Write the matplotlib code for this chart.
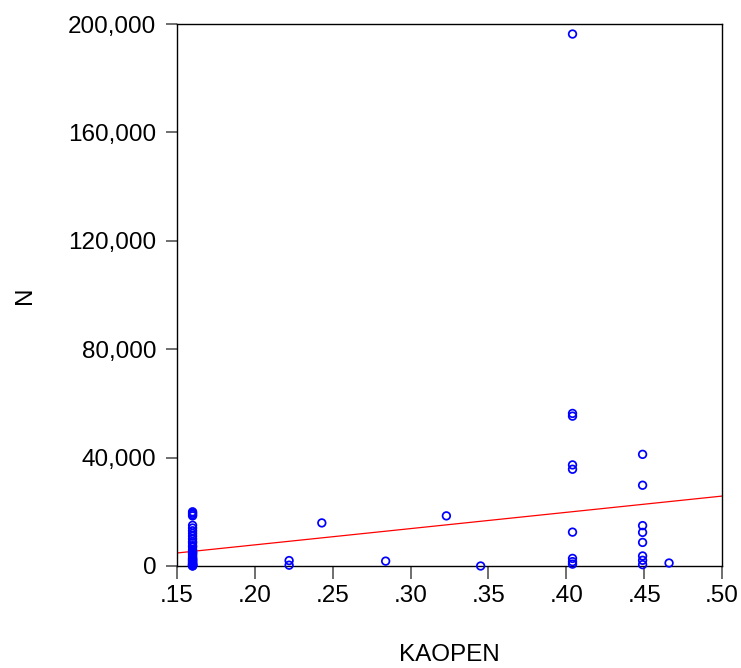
import matplotlib.pyplot as plt
from matplotlib.ticker import FuncFormatter

# scatter data: KAOPEN vs N
kaopen_160 = [0.160] * 38
n_160 = [20000, 19500, 19000, 18500, 15000, 14000, 13000, 12000, 11000, 10000,
         9000, 8500, 7500, 7000, 6000, 5500, 5000, 4800, 4500, 4000,
         3500, 3000, 2700, 2500, 2200, 2000, 1800, 1500, 1200, 1000,
         800, 600, 500, 400, 300, 200, 100, 0]

kaopen_other = [0.222, 0.222, 0.243, 0.284, 0.323, 0.345,
                0.404, 0.404, 0.404, 0.404, 0.404, 0.404, 0.404, 0.404, 0.404,
                0.449, 0.449, 0.449, 0.449, 0.449, 0.449, 0.449, 0.449,
                0.466]
n_other = [2000, 300, 15900, 1800, 18500, 0,
           196300, 56300, 55300, 37300, 35700, 12500, 2800, 1600, 700,
           41200, 29800, 14900, 12400, 8700, 3700, 2100, 500,
           1100]

# fitted line endpoints
fit_x = [0.15, 0.50]
fit_y = [4800, 25800]

xticks = [0.15, 0.20, 0.25, 0.30, 0.35, 0.40, 0.45, 0.50]
xticklabels = ['.15', '.20', '.25', '.30', '.35', '.40', '.45', '.50']
yticks = [0, 40000, 80000, 120000, 160000, 200000]

plt.rcParams['font.family'] = ['Liberation Sans', 'DejaVu Sans']

W, H = 741, 668
fig = plt.figure(figsize=(W / 100, H / 100), dpi=100)
ax = fig.add_axes([177 / W, 1 - 566 / H, 545 / W, 542 / H])

x = kaopen_160 + kaopen_other
y = n_160 + n_other
ax.scatter(x, y, s=30, facecolors='none', edgecolors='#0000ff', linewidths=1.25, zorder=3, clip_on=False)
ax.plot(fit_x, fit_y, color='red', lw=0.9, zorder=2)

ax.set_xlim(0.15, 0.50)
ax.set_ylim(0, 200000)
ax.set_xticks(xticks)
ax.set_xticklabels(xticklabels)
ax.set_yticks(yticks)
ax.yaxis.set_major_formatter(FuncFormatter(lambda v, p: f'{int(v):,}'))
ax.tick_params(axis='y', direction='out', length=8, width=1.2, color='#555555',
               labelsize=17.5, pad=7)
ax.tick_params(axis='x', direction='out', length=9, width=1.2, color='#555555',
               labelsize=17.5, pad=5)
for s in ax.spines.values():
    s.set_linewidth(1.0)
    s.set_color('black')

fig.text(449.5 / W, 1 - 661 / H, 'KAOPEN', fontsize=17.5, ha='center', va='baseline')
fig.text(25 / W, 1 - 295 / H, 'N', fontsize=17.5, ha='center', va='center', rotation=90)

fig.savefig('out.png', dpi=100)
